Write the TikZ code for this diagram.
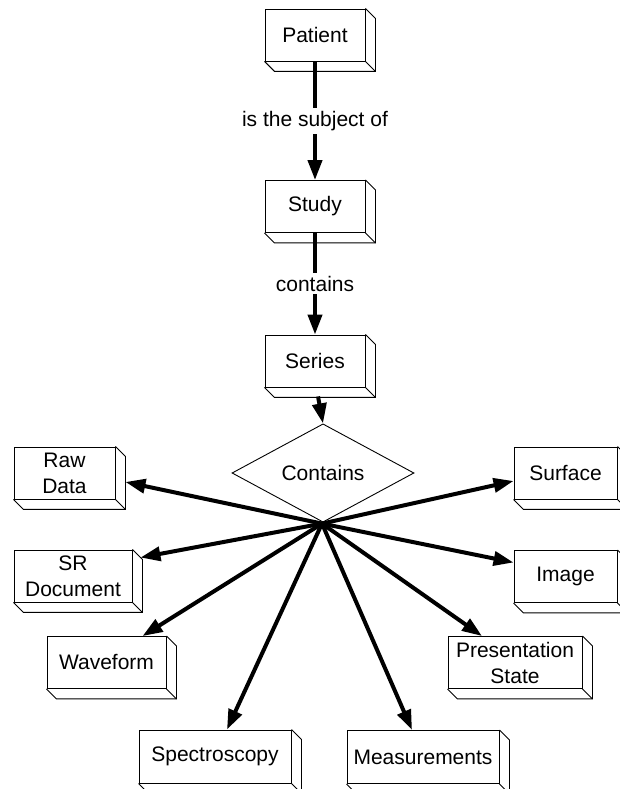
\documentclass[tikz,border=0pt]{standalone}
\usepackage{fontspec}
\setmainfont{Liberation Sans}
\usetikzlibrary{arrows.meta,shapes.geometric,calc}
\begin{document}
\begin{tikzpicture}[x=1pt,y=1pt,
  font=\fontsize{21}{26}\selectfont,
  entity/.style={draw, line width=0.9pt, fill=white, rectangle, inner sep=2pt,
    minimum height=52pt, align=center},
  depth/.style={line width=0.9pt, line join=miter},
  rel/.style={draw, line width=0.9pt, diamond, inner sep=0pt,
    minimum width=182pt, minimum height=69pt},
  link/.style={line width=4pt, -{Triangle[length=20pt,width=14pt]}},
  lbl/.style={fill=white, inner sep=3pt}]
\useasboundingbox (0,0) rectangle (619,789);

% entity boxes
\node[entity, minimum width=100pt] (patient) at (315,754) {Patient};
\node[entity, minimum width=100pt] (study)   at (315,582.5) {Study};
\node[entity, minimum width=100pt] (series)  at (315,428) {Series};
\node[entity, minimum width=101pt] (raw)     at (64.5,316) {Raw\\Data};
\node[entity, minimum width=103pt] (surface) at (565.5,316) {Surface};
\node[entity, minimum width=118pt] (srdoc)   at (73,213) {SR\\Document};
\node[entity, minimum width=103pt] (image)   at (565.5,212.5) {Image};
\node[entity, minimum width=119pt] (wave)    at (106.5,126.5) {Waveform};
\node[entity, minimum width=134pt] (pres)    at (515,126.5) {Presentation\\State};
\node[entity, minimum width=152pt, minimum height=53pt] (spec) at (215,32.5) {Spectroscopy};
\node[entity, minimum width=152pt, minimum height=53pt] (meas) at (423,32) {Measurements};

% extruded right and bottom faces
\foreach \n in {patient,study,series,raw,surface,srdoc,image,wave,pres,spec,meas}{
  \draw[depth] (\n.north east) -- ++(10,-10) -- ($(\n.south east)+(10,-10)$)
    -- ($(\n.south west)+(10,-10)$) -- (\n.south west);
  \draw[depth] (\n.south east) -- ++(10,-10);
}

% relationship diamond
\node[rel] (contains) at (323,316) {Contains};
\coordinate (hub) at ($(contains.south)+(-1,-1)$);

% hierarchy links
\draw[link] (patient.south) -- node[lbl] {is the subject of} (study.north);
\draw[link] (study.south) -- node[lbl] {contains} (series.north);
\draw[link] ([shift={(3,-9)}]series.south) -- (contains.north);

% links from the relationship to each entity
\draw[link] (hub) -- ([shift={(10,-9)}]raw.east);
\draw[link] (hub) -- ([yshift=-8]surface.west);
\draw[link] (hub) -- ([shift={(8,-8)}]srdoc.north east);
\draw[link] (hub) -- ([yshift=14]image.west);
\draw[link] (hub) -- ([xshift=36]wave.north);
\draw[link] (hub) -- ([xshift=-33]pres.north);
\draw[link] (hub) -- ([xshift=12]spec.north);
\draw[link] (hub) -- ([xshift=-11]meas.north);
\end{tikzpicture}
\end{document}
